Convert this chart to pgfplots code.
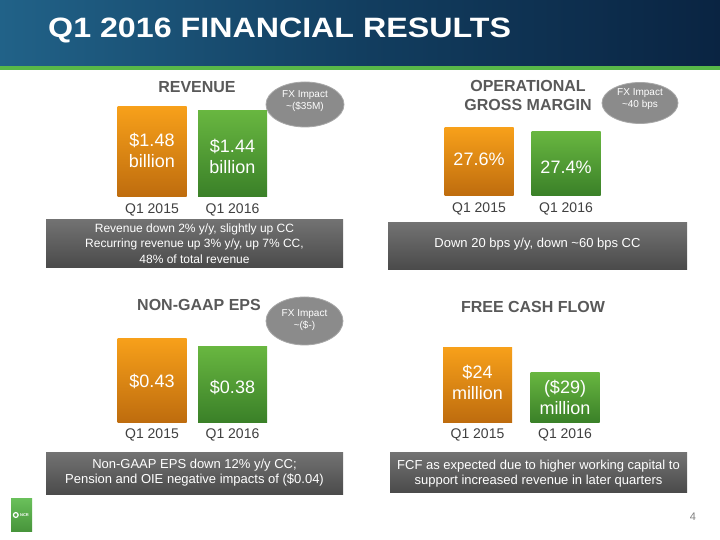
\documentclass[border=0pt]{standalone}
\usepackage{pgfplots}
\pgfplotsset{compat=1.18}
\usepackage{fontspec}
\setmainfont{Liberation Sans}
\definecolor{orT}{RGB}{247,160,26}
\definecolor{orB}{RGB}{190,108,14}
\definecolor{grT}{RGB}{104,182,64}
\definecolor{grB}{RGB}{58,128,40}
\definecolor{boxT}{RGB}{114,114,114}
\definecolor{boxB}{RGB}{74,74,74}
\definecolor{bub}{RGB}{139,139,139}
\definecolor{bubE}{RGB}{168,168,168}
\definecolor{titlegray}{RGB}{89,89,89}
\definecolor{labgray}{RGB}{64,64,64}
\definecolor{banL}{RGB}{33,98,136}
\definecolor{banM}{RGB}{18,62,96}
\definecolor{banR}{RGB}{10,36,66}
\definecolor{ncrgreen}{RGB}{88,184,72}
\pgfplotsset{
  panel/.style={anchor=south west, y=1bp, xmin=-0.5, xmax=1.5, ymin=0, ymax=100,
    enlargelimits=false, clip=false, axis line style={draw=none}, major tick length=0pt,
    xtick={0,1}, xticklabels={Q1 2015,Q1 2016}, ytick=\empty,
    xticklabel style={font=\fontsize{14bp}{16bp}\selectfont, text=labgray, yshift=-3bp}},
  barA/.style={ybar, bar width=69bp, bar shift=0pt, draw=none, top color=orT, bottom color=orB},
  barB/.style={ybar, bar width=69bp, bar shift=0pt, draw=none, top color=grT, bottom color=grB},
  vals/.style={draw=none, mark=none, forget plot, nodes near coords, point meta=explicit symbolic,
    nodes near coords align={center},
    every node near coord/.append style={text=white, align=center, inner sep=0pt,
      font=\fontsize{18bp}{21bp}\selectfont}}
}
\begin{document}
\begin{tikzpicture}[x=1bp,y=1bp]
\useasboundingbox (0,0) rectangle (720,540);
\fill[white] (0,0) rectangle (720,540);
% banner
\shade[left color=banL, right color=banR, middle color=banM] (0,474) rectangle (720,540);
\fill[ncrgreen] (0,470) rectangle (720,474);
\node[anchor=base west, inner sep=0pt, text=white, font=\bfseries\fontsize{28bp}{30bp}\selectfont]
  at (48,502) {\scalebox{1.15}[1]{Q1 2016 FINANCIAL RESULTS}};

% panel titles
\node[font=\bfseries\fontsize{16bp}{19bp}\selectfont, text=titlegray] at (197,453) {REVENUE};
\node[font=\bfseries\fontsize{16bp}{19bp}\selectfont, text=titlegray, align=center] at (528,444.5) {OPERATIONAL\\GROSS MARGIN};
\node[font=\bfseries\fontsize{16bp}{19bp}\selectfont, text=titlegray] at (199,235) {NON-GAAP EPS};
\node[font=\bfseries\fontsize{16bp}{19bp}\selectfont, text=titlegray] at (533,233) {FREE CASH FLOW};

% FX bubbles
\filldraw[fill=bub, draw=bubE, line width=0.8bp] (305,435.5) ellipse [x radius=39, y radius=22.5];
\node[text=white, align=center, font=\fontsize{10bp}{11.5bp}\selectfont] at (305,439) {FX Impact\\\textasciitilde(\$35M)};
\filldraw[fill=bub, draw=bubE, line width=0.8bp] (640,437) ellipse [x radius=38, y radius=20.5];
\node[text=white, align=center, font=\fontsize{10bp}{11.5bp}\selectfont] at (640,441) {FX Impact\\\textasciitilde40 bps};
\filldraw[fill=bub, draw=bubE, line width=0.8bp] (304.5,219) ellipse [x radius=38.5, y radius=24];
\node[text=white, align=center, font=\fontsize{10bp}{11.5bp}\selectfont] at (304.5,220) {FX Impact\\\textasciitilde(\$-)};

% comment boxes
\shade[top color=boxT, bottom color=boxB] (46,272) rectangle (343,320);
\node[text=white, align=center, font=\fontsize{12bp}{15.5bp}\selectfont] at (194.5,296.5)
  {Revenue down 2\% y/y, slightly up CC\\Recurring revenue up 3\% y/y, up 7\% CC,\\48\% of total revenue};
\shade[top color=boxT, bottom color=boxB] (388,270) rectangle (687,317);
\node[text=white, align=center, font=\fontsize{13bp}{15.5bp}\selectfont] at (537.5,296)
  {Down 20 bps y/y, down \textasciitilde60 bps CC};
\shade[top color=boxT, bottom color=boxB] (46,45) rectangle (343,87);
\node[text=white, align=center, font=\fontsize{13bp}{15bp}\selectfont] at (194.5,67.5)
  {Non-GAAP EPS down 12\% y/y CC;\\Pension and OIE negative impacts of (\$0.04)};
\shade[top color=boxT, bottom color=boxB] (390,47) rectangle (687,87);
\node[text=white, align=center, font=\fontsize{13bp}{15bp}\selectfont] at (538.5,66.5)
  {FCF as expected due to higher working capital to\\support increased revenue in later quarters};

% panels
\begin{axis}[panel, at={(111.75bp,343bp)}, x=80.5bp]
\addplot[barA] coordinates {(0,90)};
\addplot[barB] coordinates {(1,86)};
\addplot[vals] coordinates {(0,47) [{\$1.48\\billion}] (1,40.5) [{\$1.44\\billion}]};
\end{axis}
\begin{axis}[panel, at={(435.5bp,344bp)}, x=87bp]
\addplot[barA] coordinates {(0,68)};
\addplot[barB] coordinates {(1,64)};
\addplot[vals] coordinates {(0,37) [{27.6\%}] (1,29) [{27.4\%}]};
\end{axis}
\begin{axis}[panel, at={(111.75bp,117.5bp)}, x=80.5bp]
\addplot[barA] coordinates {(0,84)};
\addplot[barB] coordinates {(1,75.5)};
\addplot[vals] coordinates {(0,41.5) [{\$0.43}] (1,35.5) [{\$0.38}]};
\end{axis}
\begin{axis}[panel, at={(433.75bp,117.5bp)}, x=87.5bp]
\addplot[barA] coordinates {(0,75)};
\addplot[barB] coordinates {(1,50)};
\addplot[vals] coordinates {(0,40) [{\$24\\million}] (1,25.5) [{(\$29)\\million}]};
\end{axis}

% logo and page number
\shade[top color=ncrgreen!90!white, bottom color=ncrgreen!80!black] (11,8) rectangle (32,41);
\draw[white, line width=1.2bp] (15.8,25) circle [radius=2.4];
\node[text=white, inner sep=0pt, font=\bfseries\fontsize{4bp}{4bp}\selectfont] at (24.5,25) {NCR};
\node[text=gray, font=\fontsize{11bp}{12bp}\selectfont] at (693,23) {4};
\end{tikzpicture}
\end{document}
